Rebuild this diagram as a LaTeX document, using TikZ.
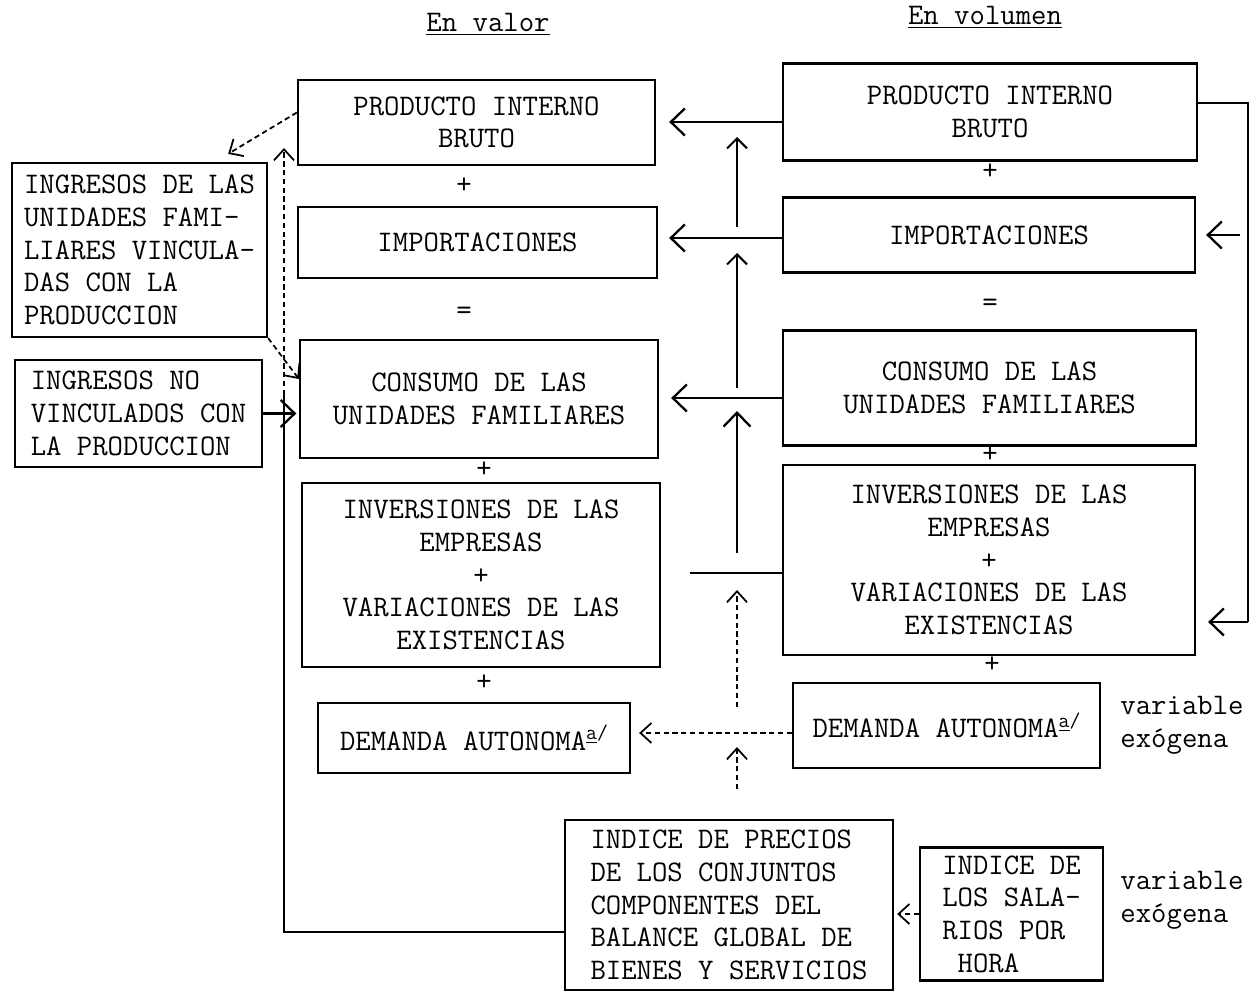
\documentclass[tikz,border=0pt]{standalone}
\usetikzlibrary{arrows.meta}
\usetikzlibrary{calc}

\newcommand{\maq}{\ttfamily\fontsize{17}{18.6}\selectfont}
\newcommand{\anota}{\raisebox{0.8ex}{\fontsize{12}{12}\selectfont\underline{a}/}}

\tikzset{
  caja/.style={draw, line width=1.3pt, font=\maq, align=center, inner sep=2pt},
  cajai/.style={caja, align=left},
  signo/.style={font=\maq, inner sep=0pt},
  nota/.style={font=\maq, align=left},
  titulo/.style={font=\maq},
  linea/.style={line width=1.3pt},
  flecha/.style={line width=1.3pt, -{Straight Barb[length=2.8mm,width=5.4mm]}},
  sube/.style={line width=1.2pt, -{Straight Barb[length=2mm,width=4mm]}},
  flechita/.style={line width=1pt, densely dashed, -{Straight Barb[length=2.2mm,width=4mm]}},
}

\begin{document}
\begin{tikzpicture}[x=0.2mm,y=-0.2mm]
\useasboundingbox (0,0) rectangle (1257,996);

% titulos
\node[titulo] (tval) at (488,24) {\underline{En valor}};
\node[titulo] (tvol) at (985,17) {\underline{En volumen}};

% en valor
\node[caja,minimum width=71.4mm,minimum height=17mm] (pibval) at (476.5,122.5) {PRODUCTO INTERNO\\BRUTO};
\node[caja,minimum width=71.8mm,minimum height=14.2mm] (impval) at (477.5,242.5) {IMPORTACIONES};
\node[caja,minimum width=71.6mm,minimum height=23.6mm] (conval) at (479,399) {CONSUMO DE LAS\\UNIDADES FAMILIARES};
\node[caja,minimum width=71.6mm,minimum height=36.8mm] (invval) at (481,575) {INVERSIONES DE LAS\\EMPRESAS\\+\\VARIACIONES DE LAS\\EXISTENCIAS};
\node[caja,minimum width=62.4mm,minimum height=14mm] (demval) at (474,738) {DEMANDA AUTONOMA\anota};

% en volumen
\node[caja,minimum width=82.8mm,minimum height=19.4mm] (pibvol) at (990,112) {PRODUCTO INTERNO\\BRUTO};
\node[caja,minimum width=82.4mm,minimum height=15mm] (impvol) at (989,235) {IMPORTACIONES};
\node[caja,minimum width=82.6mm,minimum height=23mm] (convol) at (989.5,388) {CONSUMO DE LAS\\UNIDADES FAMILIARES};
\node[caja,minimum width=82.4mm,minimum height=38mm] (invvol) at (989,560) {INVERSIONES DE LAS\\EMPRESAS\\+\\VARIACIONES DE LAS\\EXISTENCIAS};
\node[caja,minimum width=61.4mm,minimum height=17mm] (demvol) at (946.5,725.5) {DEMANDA AUTONOMA\anota};
\node[nota] (exo1) at (1182,725) {variable\\exógena};

% ingresos
\node[cajai,minimum width=51mm,minimum height=34.8mm] (ingvinc) at (139.5,250) {INGRESOS DE LAS\\UNIDADES FAMI-\\LIARES VINCULA-\\DAS CON LA\\PRODUCCION};
\node[cajai,minimum width=49.4mm,minimum height=21.4mm] (ingno) at (138.5,413.5) {INGRESOS NO\\VINCULADOS CON\\LA PRODUCCION};

% indices
\node[cajai,minimum width=65.6mm,minimum height=34mm] (precio) at (729,905) {INDICE DE PRECIOS\\DE LOS CONJUNTOS\\COMPONENTES DEL\\BALANCE GLOBAL DE\\BIENES Y SERVICIOS};
\node[cajai,minimum width=36.6mm,minimum height=26.6mm] (salarios) at (1011.5,914) {INDICE DE\\LOS SALA-\\RIOS POR\\\ HORA};
\node[nota] (exo2) at (1182,900) {variable\\exógena};

% signos
\foreach \x/\y/\s [count=\i] in {464/186/+, 464/313/=, 484/470/+, 484/683/+, 990/172/+, 990/305/=, 990/455/+, 992/665/+}
  \node[signo] (signo\i) at (\x,\y) {\s};

% eje central
\coordinate (c1) at (737,122);
\coordinate (c2) at (737,238);
\coordinate (c3) at (737,398);
\coordinate (c4) at (737,573);
\coordinate (c5) at (737,733);
\coordinate (c4i) at (690,573);

\draw[flecha,shorten >=2.6mm] (pibvol.west |- c1) -- (pibval.east |- c1);
\draw[flecha,shorten >=2.2mm] (impvol.west |- c2) -- (impval.east |- c2);
\draw[flecha,shorten >=2.4mm] (convol.west |- c3) -- (conval.east |- c3);
\draw[linea] (invvol.west |- c4) -- (c4i);
\draw[flechita,shorten >=1.6mm] (demvol.west |- c5) -- (demval.east |- c5);

\draw[flechita,shorten <=6mm] (c5 |- precio.north) -- ($(c5)+(0,14)$);
\draw[flechita] ($(c5)+(0,-26)$) -- ($(c4)+(0,17)$);
\draw[flecha] ($(c4)+(0,-20)$) -- ($(c3)+(0,13)$);
\draw[sube] ($(c3)+(0,-10)$) -- ($(c2)+(0,15)$);
\draw[sube] ($(c2)+(0,-11)$) -- ($(c1)+(0,15)$);

% lazo derecho
\coordinate (d1) at (1248,103);
\coordinate (d2) at (1248,622);
\draw[linea] (pibvol.east |- d1) -- (d1) -- (d2);
\draw[flecha,shorten >=2.4mm] (d2) -- (invvol.east |- d2);
\draw[flecha,shorten <=1.6mm,shorten >=2mm] (d1 |- impvol.east) -- (impvol.east);

% lazo izquierdo
\coordinate (i1) at (284,148);
\coordinate (i2) at (284,395);
\coordinate (i3) at (284,932);
\draw[linea] (precio.west |- i3) -- (i3) -- (i2);
\draw[flechita] (i2) -- (i1);
\draw[flechita] ($(pibval.west)+(0,-10)$) -- ($(ingvinc.north east)+(-40,-8)$);
\draw[flechita] (ingvinc.south east) -- ($(conval.west)+(0,-20)$);
\draw[flecha,shorten >=0.5mm] (ingno.east) -- (conval.west |- ingno.east);

% salarios
\draw[flechita,shorten >=0.6mm] (salarios.west) -- (precio.east |- salarios.west);

\end{tikzpicture}
\end{document}
